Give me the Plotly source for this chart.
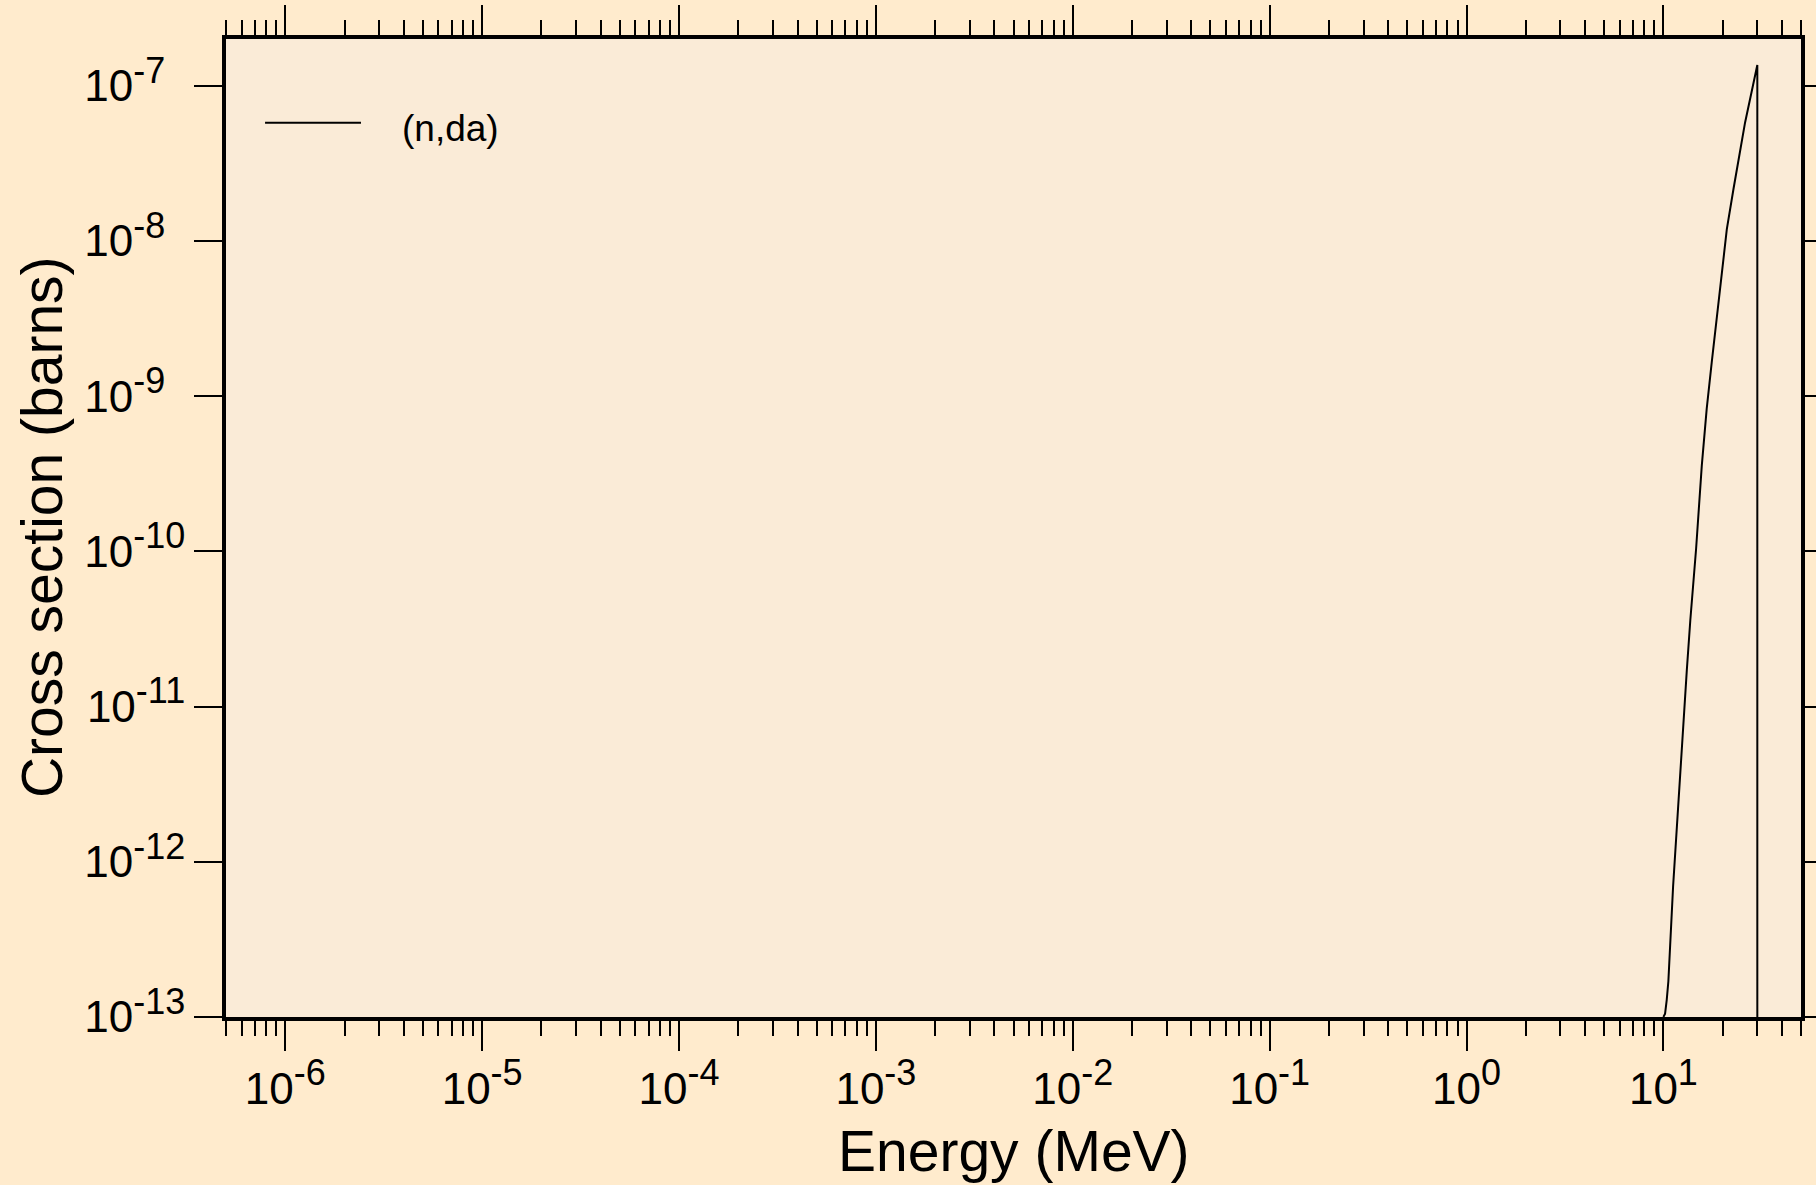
import plotly.graph_objects as go

# Data
energy_mev = [10.0, 10.2, 10.4, 10.6, 11.2, 11.47, 11.9, 12.6, 13.15, 13.7, 14.66,
              15.67, 16.6, 17.6, 18.67, 19.8, 21.0, 22.7, 26.0, 30.0, 30.0]
cross_section = [1.0e-13, 1.05e-13, 1.29e-13, 1.7e-13, 6.9e-13, 1.13e-12, 2.4e-12, 8.1e-12,
                 1.71e-11, 3.6e-11, 1.04e-10, 3.57e-10, 8.3e-10, 1.65e-9, 3.3e-9, 6.3e-9,
                 1.19e-8, 2.16e-8, 5.8e-8, 1.36e-7, 1.0e-16]
series_name = "(n,da)"

x_tick_exponents = [-6, -5, -4, -3, -2, -1, 0, 1]
y_tick_exponents = [-13, -12, -11, -10, -9, -8, -7]

FONT = "Arial, Liberation Sans, sans-serif"
SUP = "font-size:36px"

def pow_label(e):
    return "10<sup><span style='%s'>%d</span></sup>" % (SUP, e)

def pow_label_left(e):
    # y labels in the reference are left aligned: pad short exponents with an
    # invisible digit so every label has the same width
    pad = "" if abs(e) >= 10 else "<span style='%s;color:rgba(0,0,0,0)'>0</span>" % SUP
    return "10<sup><span style='%s'>%d</span>%s</sup>" % (SUP, e, pad)

x_tickvals = [10.0 ** e for e in x_tick_exponents]
x_ticktext = [pow_label(e) for e in x_tick_exponents]
y_tickvals = [10.0 ** e for e in y_tick_exponents]
y_ticktext = [pow_label_left(e) for e in y_tick_exponents]
x_minor = [m * 10.0 ** e for e in range(-7, 2) for m in range(2, 10)]

fig = go.Figure()
fig.add_trace(go.Scatter(x=energy_mev, y=cross_section, mode="lines",
                         line=dict(color="black", width=2), name=series_name,
                         showlegend=False))

common = dict(showline=True, linewidth=4, linecolor="black", mirror="ticks",
              ticks="outside", tickwidth=2, tickcolor="black", showgrid=False,
              zeroline=False, automargin=False,
              tickfont=dict(family=FONT, size=44, color="black"))

fig.update_xaxes(type="log", range=[-6.30103, 1.69897], tickmode="array",
                 tickvals=x_tickvals, ticktext=x_ticktext, ticklen=30,
                 minor=dict(tickmode="array", tickvals=x_minor, ticks="outside",
                            ticklen=15, tickwidth=2, tickcolor="black", showgrid=False),
                 **common)
fig.update_yaxes(type="log", range=[-13, -6.69897], tickmode="array",
                 tickvals=y_tickvals, ticktext=y_ticktext, ticklen=28,
                 ticklabelstandoff=0, **common)

# axis titles
fig.add_annotation(text="Energy (MeV)", xref="paper", yref="paper", x=0.5, y=-0.1366,
                   xanchor="center", yanchor="middle", showarrow=False,
                   font=dict(family=FONT, size=57, color="black"))
fig.add_annotation(text="Cross section (barns)", xref="paper", yref="paper", x=-0.1168,
                   y=0.501, xanchor="center", yanchor="middle", textangle=-90,
                   showarrow=False, font=dict(family=FONT, size=57, color="black"))

# legend (drawn manually to match the long sample line)
fig.add_shape(type="line", xref="paper", yref="paper", x0=0.0248, x1=0.0857,
              y0=0.9144, y1=0.9144, line=dict(color="black", width=2))
fig.add_annotation(text=series_name, xref="paper", yref="paper", x=0.1103, y=0.9086,
                   xanchor="left", yanchor="middle", showarrow=False,
                   font=dict(family=FONT, size=37, color="black"))

fig.update_layout(width=1816, height=1185, autosize=False,
                  margin=dict(l=226, r=15, t=39, b=168),
                  paper_bgcolor="#FFEBCD", plot_bgcolor="#FAEBD7",
                  font=dict(family=FONT, color="black"), showlegend=False)

fig.write_html("out.html", config={"displayModeBar": False},
               post_script="document.body.style.margin='0px';"
                           "document.body.style.overflow='hidden';")
